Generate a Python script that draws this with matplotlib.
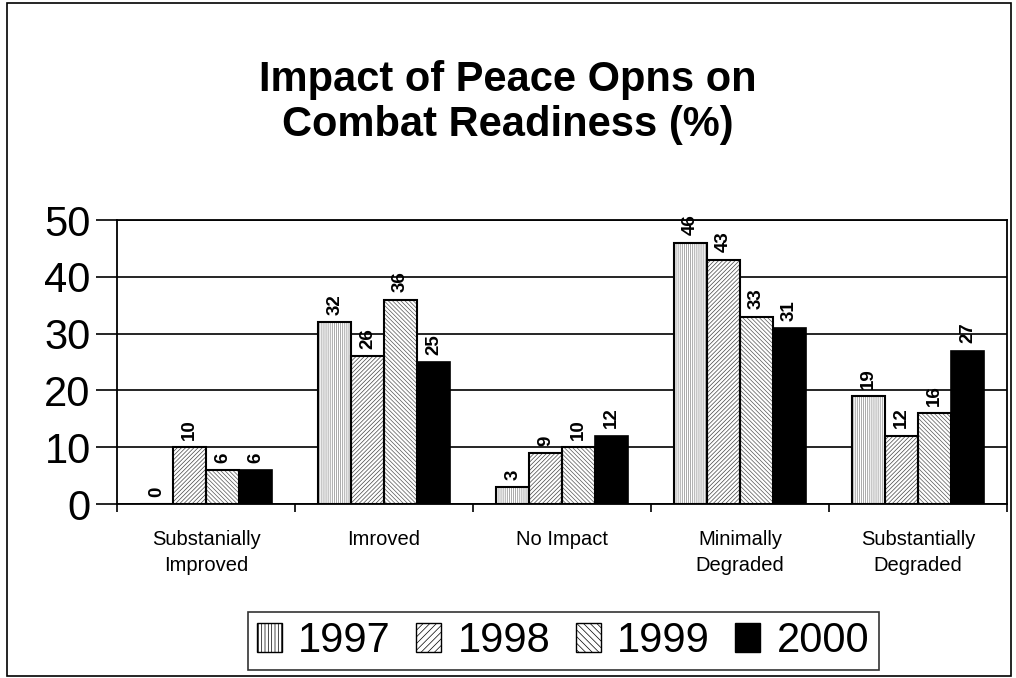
import numpy as np
import matplotlib
matplotlib.use("Agg")
import matplotlib.pyplot as plt
from matplotlib.patches import Rectangle, Patch

plt.rcParams['font.family'] = ['Liberation Sans', 'DejaVu Sans']
plt.rcParams['hatch.linewidth'] = 0.5

# ── Data ──────────────────────────────────────────────────────────────────────
categories = ["Substanially\nImproved", "Imroved", "No Impact",
              "Minimally\nDegraded", "Substantially\nDegraded"]
years = ["1997", "1998", "1999", "2000"]
v1997 = [0, 32, 3, 46, 19]
v1998 = [10, 26, 9, 43, 12]
v1999 = [6, 36, 10, 33, 16]
v2000 = [6, 25, 12, 31, 27]
series = [v1997, v1998, v1999, v2000]
yticks = [0, 10, 20, 30, 40, 50]

# hatch styles per year
hatches = ['||||||||', '////////', '\\\\\\\\\\\\\\\\', None]
hatch_cols = ['#888888', '#444444', '#555555', 'black']

# ── Figure ────────────────────────────────────────────────────────────────────
fig = plt.figure(figsize=(10.16, 6.78), dpi=100)
ax = fig.add_axes([0.1152, 0.2566, 0.8760, 0.4189])

x = np.arange(len(categories))
bw = 0.185
for i, vals in enumerate(series):
    pos = x + (i - 1.5) * bw
    if hatches[i] is None:
        ax.bar(pos, vals, bw, color='black', edgecolor='black', lw=1.2, zorder=3)
    else:
        ax.bar(pos, vals, bw, color='white', edgecolor=hatch_cols[i],
               hatch=hatches[i], lw=0, zorder=3)
        ax.bar(pos, vals, bw, fill=False, edgecolor='black', lw=1.5, zorder=4)
    for p, v in zip(pos, vals):
        ax.text(p, v + 1.3, str(v), rotation=90, ha='center', va='bottom',
                fontsize=13.5, fontweight='bold', zorder=5)

ax.set_xlim(-0.5, len(categories) - 0.5)
ax.set_ylim(0, 50)
ax.set_yticks(yticks)
ax.set_yticklabels([str(t) for t in yticks], fontsize=30)
ax.tick_params(axis='y', length=15, width=1.2, pad=4)
ax.yaxis.grid(True, color='black', lw=1.2, zorder=1)
ax.set_axisbelow(True)

ax.set_xticks(x)
ax.set_xticklabels(categories, fontsize=14.5, linespacing=1.45)
ax.tick_params(axis='x', length=0, pad=19)
ax.set_xticks(np.arange(-0.5, len(categories)), minor=True)
ax.tick_params(axis='x', which='minor', length=6, width=1.2, direction='out')

for s in ax.spines.values():
    s.set_linewidth(1.3)

# ── Title ─────────────────────────────────────────────────────────────────────
fig.text(0.5, 1 - 80 / 678, "Impact of Peace Opns on", ha='center', va='center',
         fontsize=30, fontweight='bold')
fig.text(0.5, 1 - 125 / 678, "Combat Readiness (%)", ha='center', va='center',
         fontsize=30, fontweight='bold')

# ── Legend ────────────────────────────────────────────────────────────────────
handles = []
for i, yr in enumerate(years):
    if hatches[i] is None:
        handles.append(Patch(facecolor='black', edgecolor='black', label=yr))
    else:
        handles.append(Patch(facecolor='white', edgecolor='black',
                             hatch=hatches[i][:5], lw=1, label=yr))
leg = fig.legend(handles=handles, loc='center', ncol=4,
                 bbox_to_anchor=(563 / 1016, 1 - 641 / 678),
                 fontsize=30, frameon=True, fancybox=False, edgecolor='black',
                 handlelength=0.6, handleheight=0.68, handletextpad=0.4,
                 columnspacing=0.6, borderpad=0.22, borderaxespad=0)
leg.get_frame().set_linewidth(1.2)

# outer frame
fig.patches.append(Rectangle((7 / 1016, 2 / 678), 1004 / 1016, 673 / 678,
                             transform=fig.transFigure, fill=False,
                             edgecolor='black', lw=1.2))

plt.savefig("out.png", dpi=100)
